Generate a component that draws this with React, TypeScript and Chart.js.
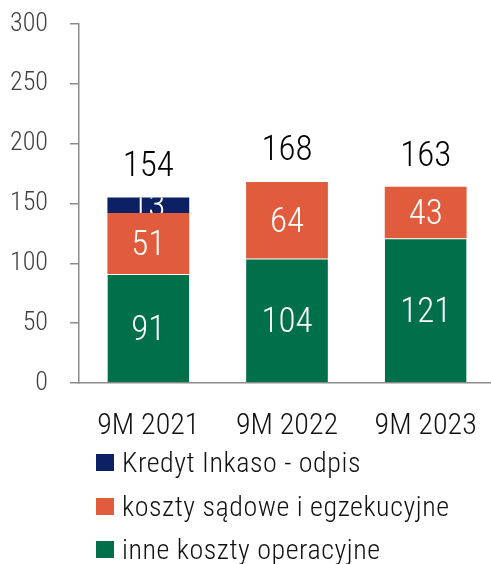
import React, { useEffect, useRef } from "react";
import { Chart, registerables } from "chart.js";

Chart.register(...registerables);

const categories = ["9M 2021", "9M 2022", "9M 2023"];
const inneKoszty = [91, 104, 121];
const kosztySadowe = [51, 64, 43];
const kredytInkaso = [13, 0, 0];
const totals = [154, 168, 163];
const yTicks = [0, 50, 100, 150, 200, 250, 300];

const seriesNames = ["inne koszty operacyjne", "koszty sądowe i egzekucyjne", "Kredyt Inkaso - odpis"];
const colors = ["#00704A", "#E05C3C", "#0C2163"];
const legendOrder = [2, 1, 0];

const FONT = "'Roboto Condensed', Roboto, sans-serif";
const WEIGHT = 300;

const labelPlugin = {
  id: "segLabels",
  afterDatasetsDraw(chart: any) {
    const ctx = chart.ctx;
    ctx.save();
    ctx.font = `${WEIGHT} 35px ${FONT}`;
    ctx.textAlign = "center";
    ctx.textBaseline = "middle";
    chart.data.datasets.forEach((ds: any, di: number) => {
      const meta = chart.getDatasetMeta(di);
      meta.data.forEach((el: any, i: number) => {
        const v = ds.data[i];
        if (!v) return;
        const { x, y, base, width } = el.getProps(["x", "y", "base", "width"], true);
        const top = Math.min(y, base);
        const h = Math.abs(base - y);
        ctx.save();
        ctx.beginPath();
        ctx.rect(x - width / 2, top, width, h);
        ctx.clip();
        ctx.fillStyle = "#ffffff";
        ctx.fillText(String(v), x, top + h / 2 + 3);
        ctx.restore();
      });
    });
    const yScale = chart.scales.y;
    const xScale = chart.scales.x;
    ctx.fillStyle = "#000000";
    totals.forEach((t, i) => {
      const x = xScale.getPixelForValue(i);
      const y = yScale.getPixelForValue(t);
      ctx.fillText(String(t), x, y - 31);
    });
    ctx.restore();
  },
};

export default function App() {
  const ref = useRef<HTMLCanvasElement>(null);
  useEffect(() => {
    document.body.style.margin = "0";
    document.body.style.overflow = "hidden";
    const chart = new Chart(ref.current!, {
      type: "bar",
      data: {
        labels: categories,
        datasets: [
          { label: seriesNames[0], data: inneKoszty, backgroundColor: colors[0], borderColor: "rgba(255,255,255,0.35)", borderWidth: { top: 1 } as any, borderSkipped: false as any },
          { label: seriesNames[1], data: kosztySadowe, backgroundColor: colors[1], borderWidth: 0 },
          { label: seriesNames[2], data: kredytInkaso, backgroundColor: colors[2], borderWidth: 0 },
        ],
      },
      options: {
        animation: false,
        responsive: false,
        maintainAspectRatio: false,
        layout: { padding: { top: 24, left: 0, right: 0, bottom: 0 } },
        plugins: { legend: { display: false }, tooltip: { enabled: false } },
        datasets: { bar: { barPercentage: 0.59, categoryPercentage: 1 } },
        scales: {
          x: {
            stacked: true,
            grid: { display: true, drawOnChartArea: false, drawTicks: false, color: "#8c8c8c" },
            border: { display: true, color: "#8c8c8c", width: 1.5 },
            ticks: { color: "#111111", font: { family: FONT, size: 30, weight: WEIGHT as any }, padding: 25 },
            afterFit(scale: any) {
              scale.height = 67;
              scale.paddingLeft = 0;
              scale.paddingRight = 0;
            },
          },
          y: {
            stacked: true,
            min: 0,
            max: 300,
            afterBuildTicks(scale: any) { scale.ticks = yTicks.map((v) => ({ value: v })); },
            grid: { display: true, drawOnChartArea: false, drawTicks: true, tickLength: 9, color: "#8c8c8c", lineWidth: 1.5 },
            border: { display: true, color: "#8c8c8c", width: 1.5 },
            ticks: { color: "#404040", font: { family: FONT, size: 26, weight: WEIGHT as any }, padding: 22 },
            afterFit(scale: any) {
              scale.width = 79;
              scale.paddingTop = 0;
              scale.paddingBottom = 0;
            },
          },
        },
      },
      plugins: [labelPlugin],
    });
    return () => chart.destroy();
  }, []);

  return (
    <div style={{ position: "fixed", left: 0, top: 0, width: 495, height: 564, background: "#fff" }}>
      <canvas ref={ref} width={495} height={450} style={{ display: "block" }} />
      <div style={{ position: "absolute", left: 96, top: 441, fontFamily: FONT, fontWeight: WEIGHT, fontSize: 28, letterSpacing: "0.55px", color: "#111" }}>
        {legendOrder.map((idx) => (
          <div key={idx} style={{ display: "flex", alignItems: "center", height: 43.5, whiteSpace: "nowrap" }}>
            <span style={{ display: "inline-block", width: 18, height: 17, background: colors[idx], marginRight: 8 }} />
            <span>{seriesNames[idx]}</span>
          </div>
        ))}
      </div>
    </div>
  );
}
